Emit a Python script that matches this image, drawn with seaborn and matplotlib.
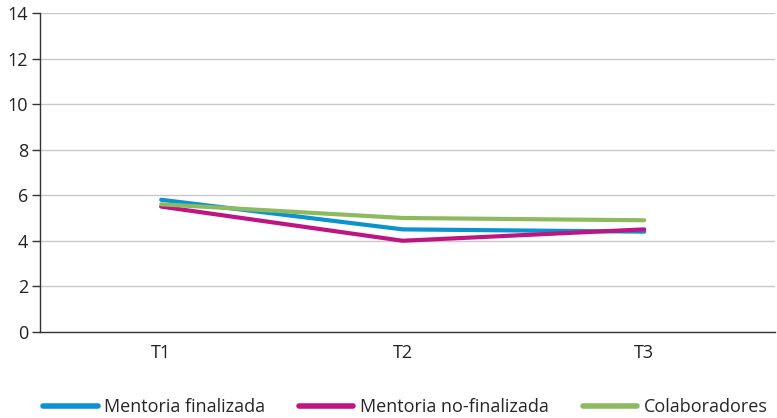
import matplotlib
matplotlib.use("Agg")
import pandas as pd
import seaborn as sns
from matplotlib import pyplot as plt

periods = ["T1", "T2", "T3"]
finalizada = [5.8, 4.5, 4.4]
no_finalizada = [5.5, 4.0, 4.5]
colaboradores = [5.6, 5.0, 4.9]

series_names = ["Mentoria finalizada", "Mentoria no-finalizada", "Colaboradores"]
palette = {
    "Mentoria finalizada": "#0A93CF",
    "Mentoria no-finalizada": "#BE1582",
    "Colaboradores": "#8DBA5E",
}

df = pd.DataFrame({
    "periodo": periods * 3,
    "valor": finalizada + no_finalizada + colaboradores,
    "serie": [s for s in series_names for _ in periods],
})

sns.set_theme(style="white")
plt.rcParams["font.family"] = ["Open Sans", "DejaVu Sans"]

fig = plt.figure(figsize=(7.77, 4.18), dpi=100)
ax = fig.add_axes([0.052, 0.206, 0.945, 0.763])

sns.lineplot(data=df, x="periodo", y="valor", hue="serie", hue_order=series_names,
             palette=palette, linewidth=3, ax=ax, sort=False)

ax.set_ylim(0, 14)
ax.set_yticks(range(0, 15, 2))
ax.set_xlim(-0.5, 2.54)
ax.set_xlabel("")
ax.set_ylabel("")
ax.yaxis.grid(True, color="#C8C8C8", linewidth=1)
ax.set_axisbelow(True)
for side in ["top", "right"]:
    ax.spines[side].set_visible(False)
ax.spines["left"].set_color("#333333")
ax.spines["bottom"].set_color("#333333")
ax.spines["left"].set_linewidth(1)
ax.spines["bottom"].set_linewidth(1)
ax.tick_params(axis="y", which="major", left=True, length=6, width=1, color="#333333",
               labelsize=13, labelcolor="#222222", pad=3)
ax.tick_params(axis="x", bottom=False, labelsize=13, labelcolor="#222222", pad=3)

handles, labels = ax.get_legend_handles_labels()
ax.legend(handles, labels, loc="center", bbox_to_anchor=(0.497, -0.235),
          ncol=3, frameon=False, fontsize=13, handlelength=3.0, columnspacing=1.9,
          handletextpad=0.35, borderaxespad=0, borderpad=0)
for line in ax.get_legend().get_lines():
    line.set_linewidth(4)

fig.savefig("out.png", dpi=100)
